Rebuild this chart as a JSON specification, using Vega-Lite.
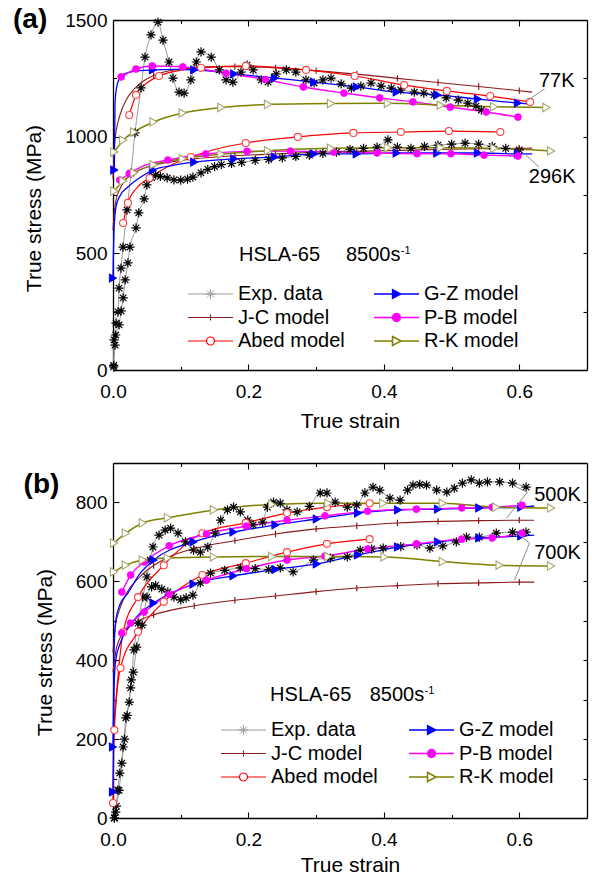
{
"$schema": "https://vega.github.io/schema/vega-lite/v6.json",
"background": "white",
"padding": {"left": 12, "top": 6, "right": 4, "bottom": 0},
"spacing": 22,
"resolve": {"scale": {"color": "independent", "strokeWidth": "independent"}, "legend": {"color": "independent", "strokeWidth": "independent"}},
"config": {
 "font": "Liberation Sans",
 "view": {"stroke": null},
 "axis": {"domainColor": "#000", "domainWidth": 1.3, "tickColor": "#000", "tickWidth": 1.1, "labelFont": "Liberation Sans", "labelFontSize": 19, "labelColor": "#000", "labelFlush": false, "labelOverlap": false, "titleFont": "Liberation Sans", "titleFontSize": 21, "titleFontWeight": "normal", "titleColor": "#000", "grid": false},
 "text": {"font": "Liberation Sans", "color": "#000"}
},
"datasets": {
"curve": [
{"t":"77K","s":"Exp. data","x":0.001,"y":13},{"t":"77K","s":"Exp. data","x":0.0015,"y":129},{"t":"77K","s":"Exp. data","x":0.0044,"y":201},{"t":"77K","s":"Exp. data","x":0.0074,"y":249},{"t":"77K","s":"Exp. data","x":0.0089,"y":351},{"t":"77K","s":"Exp. data","x":0.0118,"y":437},{"t":"77K","s":"Exp. data","x":0.0148,"y":527},{"t":"77K","s":"Exp. data","x":0.0207,"y":686},{"t":"77K","s":"Exp. data","x":0.0266,"y":844},{"t":"77K","s":"Exp. data","x":0.0325,"y":1016},{"t":"77K","s":"Exp. data","x":0.0414,"y":1209},{"t":"77K","s":"Exp. data","x":0.0473,"y":1341},{"t":"77K","s":"Exp. data","x":0.0561,"y":1436},{"t":"77K","s":"Exp. data","x":0.0665,"y":1491},{"t":"77K","s":"Exp. data","x":0.0739,"y":1414},{"t":"77K","s":"Exp. data","x":0.0827,"y":1320},{"t":"77K","s":"Exp. data","x":0.0886,"y":1251},{"t":"77K","s":"Exp. data","x":0.0975,"y":1191},{"t":"77K","s":"Exp. data","x":0.105,"y":1187},{"t":"77K","s":"Exp. data","x":0.115,"y":1243},{"t":"77K","s":"Exp. data","x":0.123,"y":1320},{"t":"77K","s":"Exp. data","x":0.13,"y":1363},{"t":"77K","s":"Exp. data","x":0.145,"y":1341},{"t":"77K","s":"Exp. data","x":0.157,"y":1286},{"t":"77K","s":"Exp. data","x":0.167,"y":1243},{"t":"77K","s":"Exp. data","x":0.177,"y":1234},{"t":"77K","s":"Exp. data","x":0.189,"y":1277},{"t":"77K","s":"Exp. data","x":0.198,"y":1307},{"t":"77K","s":"Exp. data","x":0.207,"y":1286},{"t":"77K","s":"Exp. data","x":0.219,"y":1243},{"t":"77K","s":"Exp. data","x":0.229,"y":1234},{"t":"77K","s":"Exp. data","x":0.241,"y":1269},{"t":"77K","s":"Exp. data","x":0.256,"y":1286},{"t":"77K","s":"Exp. data","x":0.27,"y":1277},{"t":"77K","s":"Exp. data","x":0.285,"y":1243},{"t":"77K","s":"Exp. data","x":0.297,"y":1230},{"t":"77K","s":"Exp. data","x":0.31,"y":1243},{"t":"77K","s":"Exp. data","x":0.322,"y":1251},{"t":"77K","s":"Exp. data","x":0.337,"y":1226},{"t":"77K","s":"Exp. data","x":0.352,"y":1208},{"t":"77K","s":"Exp. data","x":0.366,"y":1217},{"t":"77K","s":"Exp. data","x":0.381,"y":1230},{"t":"77K","s":"Exp. data","x":0.396,"y":1217},{"t":"77K","s":"Exp. data","x":0.411,"y":1208},{"t":"77K","s":"Exp. data","x":0.425,"y":1200},{"t":"77K","s":"Exp. data","x":0.445,"y":1191},{"t":"77K","s":"Exp. data","x":0.459,"y":1187},{"t":"77K","s":"Exp. data","x":0.474,"y":1179},{"t":"77K","s":"Exp. data","x":0.492,"y":1166},{"t":"77K","s":"Exp. data","x":0.51,"y":1157},{"t":"77K","s":"Exp. data","x":0.524,"y":1144},{"t":"77K","s":"Exp. data","x":0.536,"y":1131},{"t":"77K","s":"Exp. data","x":0.544,"y":1114},
{"t":"77K","s":"J-C model","x":0,"y":820},{"t":"77K","s":"J-C model","x":0.002,"y":960},{"t":"77K","s":"J-C model","x":0.005,"y":1030},{"t":"77K","s":"J-C model","x":0.01,"y":1090},{"t":"77K","s":"J-C model","x":0.02,"y":1160},{"t":"77K","s":"J-C model","x":0.03,"y":1200},{"t":"77K","s":"J-C model","x":0.04,"y":1228},{"t":"77K","s":"J-C model","x":0.06,"y":1262},{"t":"77K","s":"J-C model","x":0.08,"y":1280},{"t":"77K","s":"J-C model","x":0.1,"y":1290},{"t":"77K","s":"J-C model","x":0.12,"y":1296},{"t":"77K","s":"J-C model","x":0.15,"y":1300},{"t":"77K","s":"J-C model","x":0.18,"y":1300},{"t":"77K","s":"J-C model","x":0.24,"y":1295},{"t":"77K","s":"J-C model","x":0.3,"y":1283},{"t":"77K","s":"J-C model","x":0.36,"y":1268},{"t":"77K","s":"J-C model","x":0.42,"y":1250},{"t":"77K","s":"J-C model","x":0.48,"y":1232},{"t":"77K","s":"J-C model","x":0.54,"y":1215},{"t":"77K","s":"J-C model","x":0.6,"y":1197},{"t":"77K","s":"J-C model","x":0.619,"y":1191},
{"t":"77K","s":"Abed model","x":0.024,"y":1093},{"t":"77K","s":"Abed model","x":0.034,"y":1179},{"t":"77K","s":"Abed model","x":0.05,"y":1230},{"t":"77K","s":"Abed model","x":0.068,"y":1260},{"t":"77K","s":"Abed model","x":0.1,"y":1285},{"t":"77K","s":"Abed model","x":0.13,"y":1295},{"t":"77K","s":"Abed model","x":0.196,"y":1303},{"t":"77K","s":"Abed model","x":0.285,"y":1286},{"t":"77K","s":"Abed model","x":0.357,"y":1260},{"t":"77K","s":"Abed model","x":0.43,"y":1221},{"t":"77K","s":"Abed model","x":0.493,"y":1196},{"t":"77K","s":"Abed model","x":0.557,"y":1174},{"t":"77K","s":"Abed model","x":0.616,"y":1149},
{"t":"77K","s":"G-Z model","x":0.002,"y":857},{"t":"77K","s":"G-Z model","x":0.003,"y":1150},{"t":"77K","s":"G-Z model","x":0.006,"y":1220},{"t":"77K","s":"G-Z model","x":0.012,"y":1260},{"t":"77K","s":"G-Z model","x":0.02,"y":1272},{"t":"77K","s":"G-Z model","x":0.035,"y":1282},{"t":"77K","s":"G-Z model","x":0.059,"y":1286},{"t":"77K","s":"G-Z model","x":0.09,"y":1288},{"t":"77K","s":"G-Z model","x":0.12,"y":1286},{"t":"77K","s":"G-Z model","x":0.179,"y":1269},{"t":"77K","s":"G-Z model","x":0.239,"y":1251},{"t":"77K","s":"G-Z model","x":0.297,"y":1234},{"t":"77K","s":"G-Z model","x":0.36,"y":1213},{"t":"77K","s":"G-Z model","x":0.419,"y":1191},{"t":"77K","s":"G-Z model","x":0.479,"y":1179},{"t":"77K","s":"G-Z model","x":0.539,"y":1161},{"t":"77K","s":"G-Z model","x":0.598,"y":1144},{"t":"77K","s":"G-Z model","x":0.619,"y":1140},
{"t":"77K","s":"P-B model","x":0.012,"y":1256},{"t":"77K","s":"P-B model","x":0.034,"y":1290},{"t":"77K","s":"P-B model","x":0.058,"y":1303},{"t":"77K","s":"P-B model","x":0.103,"y":1299},{"t":"77K","s":"P-B model","x":0.167,"y":1272},{"t":"77K","s":"P-B model","x":0.225,"y":1245},{"t":"77K","s":"P-B model","x":0.281,"y":1213},{"t":"77K","s":"P-B model","x":0.341,"y":1187},{"t":"77K","s":"P-B model","x":0.394,"y":1166},{"t":"77K","s":"P-B model","x":0.443,"y":1149},{"t":"77K","s":"P-B model","x":0.498,"y":1127},{"t":"77K","s":"P-B model","x":0.551,"y":1106},{"t":"77K","s":"P-B model","x":0.598,"y":1084},
{"t":"77K","s":"R-K model","x":0.002,"y":934},{"t":"77K","s":"R-K model","x":0.015,"y":985},{"t":"77K","s":"R-K model","x":0.031,"y":1020},{"t":"77K","s":"R-K model","x":0.06,"y":1063},{"t":"77K","s":"R-K model","x":0.103,"y":1101},{"t":"77K","s":"R-K model","x":0.16,"y":1125},{"t":"77K","s":"R-K model","x":0.229,"y":1138},{"t":"77K","s":"R-K model","x":0.322,"y":1142},{"t":"77K","s":"R-K model","x":0.406,"y":1143},{"t":"77K","s":"R-K model","x":0.484,"y":1135},{"t":"77K","s":"R-K model","x":0.563,"y":1128},{"t":"77K","s":"R-K model","x":0.64,"y":1125},
{"t":"296K","s":"Exp. data","x":0.001,"y":20},{"t":"296K","s":"Exp. data","x":0.003,"y":107},{"t":"296K","s":"Exp. data","x":0.004,"y":150},{"t":"296K","s":"Exp. data","x":0.009,"y":193},{"t":"296K","s":"Exp. data","x":0.012,"y":253},{"t":"296K","s":"Exp. data","x":0.015,"y":309},{"t":"296K","s":"Exp. data","x":0.018,"y":386},{"t":"296K","s":"Exp. data","x":0.022,"y":459},{"t":"296K","s":"Exp. data","x":0.025,"y":527},{"t":"296K","s":"Exp. data","x":0.034,"y":609},{"t":"296K","s":"Exp. data","x":0.038,"y":673},{"t":"296K","s":"Exp. data","x":0.046,"y":733},{"t":"296K","s":"Exp. data","x":0.05,"y":793},{"t":"296K","s":"Exp. data","x":0.057,"y":825},{"t":"296K","s":"Exp. data","x":0.063,"y":836},{"t":"296K","s":"Exp. data","x":0.07,"y":830},{"t":"296K","s":"Exp. data","x":0.08,"y":823},{"t":"296K","s":"Exp. data","x":0.09,"y":815},{"t":"296K","s":"Exp. data","x":0.1,"y":814},{"t":"296K","s":"Exp. data","x":0.11,"y":818},{"t":"296K","s":"Exp. data","x":0.118,"y":827},{"t":"296K","s":"Exp. data","x":0.13,"y":845},{"t":"296K","s":"Exp. data","x":0.14,"y":860},{"t":"296K","s":"Exp. data","x":0.15,"y":872},{"t":"296K","s":"Exp. data","x":0.16,"y":880},{"t":"296K","s":"Exp. data","x":0.175,"y":885},{"t":"296K","s":"Exp. data","x":0.19,"y":890},{"t":"296K","s":"Exp. data","x":0.21,"y":898},{"t":"296K","s":"Exp. data","x":0.23,"y":903},{"t":"296K","s":"Exp. data","x":0.25,"y":909},{"t":"296K","s":"Exp. data","x":0.27,"y":915},{"t":"296K","s":"Exp. data","x":0.29,"y":921},{"t":"296K","s":"Exp. data","x":0.31,"y":928},{"t":"296K","s":"Exp. data","x":0.33,"y":934},{"t":"296K","s":"Exp. data","x":0.35,"y":945},{"t":"296K","s":"Exp. data","x":0.37,"y":950},{"t":"296K","s":"Exp. data","x":0.39,"y":955},{"t":"296K","s":"Exp. data","x":0.406,"y":986},{"t":"296K","s":"Exp. data","x":0.42,"y":955},{"t":"296K","s":"Exp. data","x":0.44,"y":950},{"t":"296K","s":"Exp. data","x":0.46,"y":958},{"t":"296K","s":"Exp. data","x":0.48,"y":964},{"t":"296K","s":"Exp. data","x":0.5,"y":968},{"t":"296K","s":"Exp. data","x":0.52,"y":972},{"t":"296K","s":"Exp. data","x":0.54,"y":968},{"t":"296K","s":"Exp. data","x":0.56,"y":958},{"t":"296K","s":"Exp. data","x":0.58,"y":950},{"t":"296K","s":"Exp. data","x":0.6,"y":943},
{"t":"296K","s":"J-C model","x":0,"y":600},{"t":"296K","s":"J-C model","x":0.002,"y":680},{"t":"296K","s":"J-C model","x":0.005,"y":735},{"t":"296K","s":"J-C model","x":0.01,"y":775},{"t":"296K","s":"J-C model","x":0.02,"y":820},{"t":"296K","s":"J-C model","x":0.04,"y":858},{"t":"296K","s":"J-C model","x":0.06,"y":878},{"t":"296K","s":"J-C model","x":0.1,"y":898},{"t":"296K","s":"J-C model","x":0.12,"y":905},{"t":"296K","s":"J-C model","x":0.18,"y":918},{"t":"296K","s":"J-C model","x":0.24,"y":926},{"t":"296K","s":"J-C model","x":0.3,"y":933},{"t":"296K","s":"J-C model","x":0.36,"y":937},{"t":"296K","s":"J-C model","x":0.42,"y":941},{"t":"296K","s":"J-C model","x":0.48,"y":945},{"t":"296K","s":"J-C model","x":0.54,"y":948},{"t":"296K","s":"J-C model","x":0.6,"y":950},{"t":"296K","s":"J-C model","x":0.619,"y":951},
{"t":"296K","s":"Abed model","x":0.015,"y":630},{"t":"296K","s":"Abed model","x":0.022,"y":716},{"t":"296K","s":"Abed model","x":0.035,"y":780},{"t":"296K","s":"Abed model","x":0.054,"y":823},{"t":"296K","s":"Abed model","x":0.08,"y":870},{"t":"296K","s":"Abed model","x":0.115,"y":913},{"t":"296K","s":"Abed model","x":0.15,"y":945},{"t":"296K","s":"Abed model","x":0.196,"y":973},{"t":"296K","s":"Abed model","x":0.273,"y":999},{"t":"296K","s":"Abed model","x":0.355,"y":1016},{"t":"296K","s":"Abed model","x":0.425,"y":1020},{"t":"296K","s":"Abed model","x":0.496,"y":1024},{"t":"296K","s":"Abed model","x":0.572,"y":1020},
{"t":"296K","s":"G-Z model","x":0,"y":394},{"t":"296K","s":"G-Z model","x":0.0015,"y":600},{"t":"296K","s":"G-Z model","x":0.0044,"y":699},{"t":"296K","s":"G-Z model","x":0.01,"y":745},{"t":"296K","s":"G-Z model","x":0.022,"y":784},{"t":"296K","s":"G-Z model","x":0.041,"y":827},{"t":"296K","s":"G-Z model","x":0.059,"y":857},{"t":"296K","s":"G-Z model","x":0.09,"y":878},{"t":"296K","s":"G-Z model","x":0.12,"y":891},{"t":"296K","s":"G-Z model","x":0.179,"y":905},{"t":"296K","s":"G-Z model","x":0.239,"y":913},{"t":"296K","s":"G-Z model","x":0.297,"y":926},{"t":"296K","s":"G-Z model","x":0.36,"y":926},{"t":"296K","s":"G-Z model","x":0.419,"y":930},{"t":"296K","s":"G-Z model","x":0.479,"y":930},{"t":"296K","s":"G-Z model","x":0.539,"y":930},{"t":"296K","s":"G-Z model","x":0.598,"y":926},{"t":"296K","s":"G-Z model","x":0.619,"y":926},
{"t":"296K","s":"P-B model","x":0.01,"y":814},{"t":"296K","s":"P-B model","x":0.024,"y":842},{"t":"296K","s":"P-B model","x":0.045,"y":875},{"t":"296K","s":"P-B model","x":0.081,"y":900},{"t":"296K","s":"P-B model","x":0.137,"y":926},{"t":"296K","s":"P-B model","x":0.198,"y":937},{"t":"296K","s":"P-B model","x":0.262,"y":938},{"t":"296K","s":"P-B model","x":0.326,"y":934},{"t":"296K","s":"P-B model","x":0.39,"y":930},{"t":"296K","s":"P-B model","x":0.449,"y":927},{"t":"296K","s":"P-B model","x":0.499,"y":927},{"t":"296K","s":"P-B model","x":0.548,"y":921},{"t":"296K","s":"P-B model","x":0.598,"y":917},
{"t":"296K","s":"R-K model","x":0.002,"y":767},{"t":"296K","s":"R-K model","x":0.015,"y":810},{"t":"296K","s":"R-K model","x":0.031,"y":845},{"t":"296K","s":"R-K model","x":0.06,"y":880},{"t":"296K","s":"R-K model","x":0.103,"y":905},{"t":"296K","s":"R-K model","x":0.16,"y":925},{"t":"296K","s":"R-K model","x":0.229,"y":940},{"t":"296K","s":"R-K model","x":0.322,"y":950},{"t":"296K","s":"R-K model","x":0.406,"y":953},{"t":"296K","s":"R-K model","x":0.484,"y":953},{"t":"296K","s":"R-K model","x":0.563,"y":950},{"t":"296K","s":"R-K model","x":0.647,"y":939},
{"t":"500K","s":"Exp. data","x":0.002,"y":0},{"t":"500K","s":"Exp. data","x":0.004,"y":15},{"t":"500K","s":"Exp. data","x":0.007,"y":71},{"t":"500K","s":"Exp. data","x":0.01,"y":114},{"t":"500K","s":"Exp. data","x":0.015,"y":180},{"t":"500K","s":"Exp. data","x":0.019,"y":254},{"t":"500K","s":"Exp. data","x":0.024,"y":294},{"t":"500K","s":"Exp. data","x":0.027,"y":350},{"t":"500K","s":"Exp. data","x":0.031,"y":426},{"t":"500K","s":"Exp. data","x":0.037,"y":494},{"t":"500K","s":"Exp. data","x":0.044,"y":560},{"t":"500K","s":"Exp. data","x":0.05,"y":611},{"t":"500K","s":"Exp. data","x":0.055,"y":654},{"t":"500K","s":"Exp. data","x":0.059,"y":687},{"t":"500K","s":"Exp. data","x":0.068,"y":717},{"t":"500K","s":"Exp. data","x":0.077,"y":730},{"t":"500K","s":"Exp. data","x":0.085,"y":735},{"t":"500K","s":"Exp. data","x":0.096,"y":722},{"t":"500K","s":"Exp. data","x":0.107,"y":700},{"t":"500K","s":"Exp. data","x":0.119,"y":679},{"t":"500K","s":"Exp. data","x":0.129,"y":674},{"t":"500K","s":"Exp. data","x":0.14,"y":687},{"t":"500K","s":"Exp. data","x":0.151,"y":722},{"t":"500K","s":"Exp. data","x":0.159,"y":755},{"t":"500K","s":"Exp. data","x":0.169,"y":781},{"t":"500K","s":"Exp. data","x":0.178,"y":788},{"t":"500K","s":"Exp. data","x":0.188,"y":776},{"t":"500K","s":"Exp. data","x":0.199,"y":755},{"t":"500K","s":"Exp. data","x":0.207,"y":743},{"t":"500K","s":"Exp. data","x":0.221,"y":750},{"t":"500K","s":"Exp. data","x":0.228,"y":788},{"t":"500K","s":"Exp. data","x":0.237,"y":801},{"t":"500K","s":"Exp. data","x":0.247,"y":798},{"t":"500K","s":"Exp. data","x":0.257,"y":781},{"t":"500K","s":"Exp. data","x":0.272,"y":776},{"t":"500K","s":"Exp. data","x":0.29,"y":790},{"t":"500K","s":"Exp. data","x":0.306,"y":824},{"t":"500K","s":"Exp. data","x":0.316,"y":824},{"t":"500K","s":"Exp. data","x":0.328,"y":801},{"t":"500K","s":"Exp. data","x":0.346,"y":788},{"t":"500K","s":"Exp. data","x":0.36,"y":793},{"t":"500K","s":"Exp. data","x":0.372,"y":824},{"t":"500K","s":"Exp. data","x":0.384,"y":839},{"t":"500K","s":"Exp. data","x":0.394,"y":831},{"t":"500K","s":"Exp. data","x":0.409,"y":811},{"t":"500K","s":"Exp. data","x":0.424,"y":806},{"t":"500K","s":"Exp. data","x":0.435,"y":831},{"t":"500K","s":"Exp. data","x":0.443,"y":844},{"t":"500K","s":"Exp. data","x":0.453,"y":846},{"t":"500K","s":"Exp. data","x":0.463,"y":844},{"t":"500K","s":"Exp. data","x":0.478,"y":831},{"t":"500K","s":"Exp. data","x":0.493,"y":826},{"t":"500K","s":"Exp. data","x":0.504,"y":836},{"t":"500K","s":"Exp. data","x":0.516,"y":849},{"t":"500K","s":"Exp. data","x":0.529,"y":857},{"t":"500K","s":"Exp. data","x":0.541,"y":849},{"t":"500K","s":"Exp. data","x":0.553,"y":852},{"t":"500K","s":"Exp. data","x":0.571,"y":852},{"t":"500K","s":"Exp. data","x":0.59,"y":849},{"t":"500K","s":"Exp. data","x":0.61,"y":839},
{"t":"500K","s":"J-C model","x":0,"y":420},{"t":"500K","s":"J-C model","x":0.003,"y":480},{"t":"500K","s":"J-C model","x":0.01,"y":530},{"t":"500K","s":"J-C model","x":0.02,"y":570},{"t":"500K","s":"J-C model","x":0.04,"y":612},{"t":"500K","s":"J-C model","x":0.06,"y":640},{"t":"500K","s":"J-C model","x":0.08,"y":660},{"t":"500K","s":"J-C model","x":0.12,"y":683},{"t":"500K","s":"J-C model","x":0.18,"y":703},{"t":"500K","s":"J-C model","x":0.24,"y":720},{"t":"500K","s":"J-C model","x":0.3,"y":733},{"t":"500K","s":"J-C model","x":0.36,"y":741},{"t":"500K","s":"J-C model","x":0.42,"y":748},{"t":"500K","s":"J-C model","x":0.48,"y":752},{"t":"500K","s":"J-C model","x":0.54,"y":754},{"t":"500K","s":"J-C model","x":0.6,"y":755},{"t":"500K","s":"J-C model","x":0.622,"y":755},
{"t":"500K","s":"Abed model","x":0.002,"y":250},{"t":"500K","s":"Abed model","x":0.015,"y":471},{"t":"500K","s":"Abed model","x":0.037,"y":560},{"t":"500K","s":"Abed model","x":0.075,"y":641},{"t":"500K","s":"Abed model","x":0.132,"y":722},{"t":"500K","s":"Abed model","x":0.196,"y":748},{"t":"500K","s":"Abed model","x":0.257,"y":773},{"t":"500K","s":"Abed model","x":0.316,"y":788},{"t":"500K","s":"Abed model","x":0.379,"y":798},
{"t":"500K","s":"G-Z model","x":0,"y":180},{"t":"500K","s":"G-Z model","x":0.0015,"y":420},{"t":"500K","s":"G-Z model","x":0.004,"y":500},{"t":"500K","s":"G-Z model","x":0.01,"y":540},{"t":"500K","s":"G-Z model","x":0.022,"y":570},{"t":"500K","s":"G-Z model","x":0.04,"y":620},{"t":"500K","s":"G-Z model","x":0.06,"y":654},{"t":"500K","s":"G-Z model","x":0.119,"y":700},{"t":"500K","s":"G-Z model","x":0.178,"y":725},{"t":"500K","s":"G-Z model","x":0.24,"y":743},{"t":"500K","s":"G-Z model","x":0.301,"y":758},{"t":"500K","s":"G-Z model","x":0.362,"y":773},{"t":"500K","s":"G-Z model","x":0.421,"y":781},{"t":"500K","s":"G-Z model","x":0.48,"y":783},{"t":"500K","s":"G-Z model","x":0.541,"y":786},{"t":"500K","s":"G-Z model","x":0.603,"y":788},{"t":"500K","s":"G-Z model","x":0.622,"y":791},
{"t":"500K","s":"P-B model","x":0.013,"y":573},{"t":"500K","s":"P-B model","x":0.026,"y":616},{"t":"500K","s":"P-B model","x":0.046,"y":649},{"t":"500K","s":"P-B model","x":0.083,"y":690},{"t":"500K","s":"P-B model","x":0.138,"y":720},{"t":"500K","s":"P-B model","x":0.197,"y":740},{"t":"500K","s":"P-B model","x":0.257,"y":755},{"t":"500K","s":"P-B model","x":0.313,"y":766},{"t":"500K","s":"P-B model","x":0.376,"y":778},{"t":"500K","s":"P-B model","x":0.448,"y":783},{"t":"500K","s":"P-B model","x":0.515,"y":786},{"t":"500K","s":"P-B model","x":0.56,"y":788},{"t":"500K","s":"P-B model","x":0.604,"y":793},
{"t":"500K","s":"R-K model","x":0.0015,"y":697},{"t":"500K","s":"R-K model","x":0.019,"y":722},{"t":"500K","s":"R-K model","x":0.044,"y":748},{"t":"500K","s":"R-K model","x":0.081,"y":761},{"t":"500K","s":"R-K model","x":0.149,"y":781},{"t":"500K","s":"R-K model","x":0.235,"y":795},{"t":"500K","s":"R-K model","x":0.318,"y":798},{"t":"500K","s":"R-K model","x":0.399,"y":798},{"t":"500K","s":"R-K model","x":0.487,"y":798},{"t":"500K","s":"R-K model","x":0.566,"y":788},{"t":"500K","s":"R-K model","x":0.647,"y":786},
{"t":"700K","s":"Exp. data","x":0.002,"y":0},{"t":"700K","s":"Exp. data","x":0.005,"y":30},{"t":"700K","s":"Exp. data","x":0.009,"y":70},{"t":"700K","s":"Exp. data","x":0.013,"y":139},{"t":"700K","s":"Exp. data","x":0.017,"y":200},{"t":"700K","s":"Exp. data","x":0.021,"y":260},{"t":"700K","s":"Exp. data","x":0.026,"y":330},{"t":"700K","s":"Exp. data","x":0.03,"y":370},{"t":"700K","s":"Exp. data","x":0.035,"y":433},{"t":"700K","s":"Exp. data","x":0.043,"y":489},{"t":"700K","s":"Exp. data","x":0.05,"y":560},{"t":"700K","s":"Exp. data","x":0.057,"y":586},{"t":"700K","s":"Exp. data","x":0.063,"y":590},{"t":"700K","s":"Exp. data","x":0.072,"y":580},{"t":"700K","s":"Exp. data","x":0.081,"y":573},{"t":"700K","s":"Exp. data","x":0.09,"y":560},{"t":"700K","s":"Exp. data","x":0.1,"y":553},{"t":"700K","s":"Exp. data","x":0.108,"y":558},{"t":"700K","s":"Exp. data","x":0.118,"y":565},{"t":"700K","s":"Exp. data","x":0.129,"y":596},{"t":"700K","s":"Exp. data","x":0.144,"y":621},{"t":"700K","s":"Exp. data","x":0.165,"y":628},{"t":"700K","s":"Exp. data","x":0.188,"y":634},{"t":"700K","s":"Exp. data","x":0.21,"y":632},{"t":"700K","s":"Exp. data","x":0.23,"y":630},{"t":"700K","s":"Exp. data","x":0.247,"y":634},{"t":"700K","s":"Exp. data","x":0.266,"y":624},{"t":"700K","s":"Exp. data","x":0.296,"y":654},{"t":"700K","s":"Exp. data","x":0.321,"y":659},{"t":"700K","s":"Exp. data","x":0.346,"y":662},{"t":"700K","s":"Exp. data","x":0.365,"y":679},{"t":"700K","s":"Exp. data","x":0.382,"y":682},{"t":"700K","s":"Exp. data","x":0.399,"y":684},{"t":"700K","s":"Exp. data","x":0.425,"y":688},{"t":"700K","s":"Exp. data","x":0.449,"y":692},{"t":"700K","s":"Exp. data","x":0.468,"y":684},{"t":"700K","s":"Exp. data","x":0.487,"y":690},{"t":"700K","s":"Exp. data","x":0.507,"y":700},{"t":"700K","s":"Exp. data","x":0.522,"y":712},{"t":"700K","s":"Exp. data","x":0.541,"y":712},{"t":"700K","s":"Exp. data","x":0.566,"y":722},{"t":"700K","s":"Exp. data","x":0.59,"y":725},{"t":"700K","s":"Exp. data","x":0.61,"y":725},
{"t":"700K","s":"J-C model","x":0,"y":370},{"t":"700K","s":"J-C model","x":0.005,"y":430},{"t":"700K","s":"J-C model","x":0.01,"y":455},{"t":"700K","s":"J-C model","x":0.02,"y":478},{"t":"700K","s":"J-C model","x":0.04,"y":502},{"t":"700K","s":"J-C model","x":0.06,"y":515},{"t":"700K","s":"J-C model","x":0.1,"y":532},{"t":"700K","s":"J-C model","x":0.12,"y":538},{"t":"700K","s":"J-C model","x":0.18,"y":552},{"t":"700K","s":"J-C model","x":0.24,"y":563},{"t":"700K","s":"J-C model","x":0.3,"y":574},{"t":"700K","s":"J-C model","x":0.36,"y":583},{"t":"700K","s":"J-C model","x":0.42,"y":589},{"t":"700K","s":"J-C model","x":0.48,"y":594},{"t":"700K","s":"J-C model","x":0.54,"y":596},{"t":"700K","s":"J-C model","x":0.6,"y":598},{"t":"700K","s":"J-C model","x":0.622,"y":598},
{"t":"700K","s":"Abed model","x":0,"y":38},{"t":"700K","s":"Abed model","x":0.002,"y":223},{"t":"700K","s":"Abed model","x":0.011,"y":380},{"t":"700K","s":"Abed model","x":0.037,"y":472},{"t":"700K","s":"Abed model","x":0.075,"y":548},{"t":"700K","s":"Abed model","x":0.132,"y":616},{"t":"700K","s":"Abed model","x":0.196,"y":646},{"t":"700K","s":"Abed model","x":0.257,"y":674},{"t":"700K","s":"Abed model","x":0.316,"y":695},{"t":"700K","s":"Abed model","x":0.379,"y":707},
{"t":"700K","s":"G-Z model","x":0,"y":66},{"t":"700K","s":"G-Z model","x":0.0015,"y":330},{"t":"700K","s":"G-Z model","x":0.004,"y":400},{"t":"700K","s":"G-Z model","x":0.01,"y":440},{"t":"700K","s":"G-Z model","x":0.02,"y":475},{"t":"700K","s":"G-Z model","x":0.035,"y":510},{"t":"700K","s":"G-Z model","x":0.06,"y":545},{"t":"700K","s":"G-Z model","x":0.119,"y":593},{"t":"700K","s":"G-Z model","x":0.178,"y":614},{"t":"700K","s":"G-Z model","x":0.24,"y":630},{"t":"700K","s":"G-Z model","x":0.301,"y":644},{"t":"700K","s":"G-Z model","x":0.362,"y":667},{"t":"700K","s":"G-Z model","x":0.421,"y":687},{"t":"700K","s":"G-Z model","x":0.48,"y":700},{"t":"700K","s":"G-Z model","x":0.541,"y":710},{"t":"700K","s":"G-Z model","x":0.603,"y":715},{"t":"700K","s":"G-Z model","x":0.622,"y":717},
{"t":"700K","s":"P-B model","x":0.013,"y":469},{"t":"700K","s":"P-B model","x":0.026,"y":494},{"t":"700K","s":"P-B model","x":0.046,"y":522},{"t":"700K","s":"P-B model","x":0.083,"y":567},{"t":"700K","s":"P-B model","x":0.138,"y":603},{"t":"700K","s":"P-B model","x":0.197,"y":632},{"t":"700K","s":"P-B model","x":0.257,"y":654},{"t":"700K","s":"P-B model","x":0.313,"y":664},{"t":"700K","s":"P-B model","x":0.376,"y":682},{"t":"700K","s":"P-B model","x":0.448,"y":695},{"t":"700K","s":"P-B model","x":0.515,"y":707},{"t":"700K","s":"P-B model","x":0.56,"y":710},{"t":"700K","s":"P-B model","x":0.604,"y":722},
{"t":"700K","s":"R-K model","x":0.0015,"y":624},{"t":"700K","s":"R-K model","x":0.019,"y":641},{"t":"700K","s":"R-K model","x":0.044,"y":654},{"t":"700K","s":"R-K model","x":0.081,"y":659},{"t":"700K","s":"R-K model","x":0.149,"y":662},{"t":"700K","s":"R-K model","x":0.235,"y":663},{"t":"700K","s":"R-K model","x":0.318,"y":663},{"t":"700K","s":"R-K model","x":0.401,"y":662},{"t":"700K","s":"R-K model","x":0.487,"y":650},{"t":"700K","s":"R-K model","x":0.571,"y":641},{"t":"700K","s":"R-K model","x":0.647,"y":639}
],
"pts": [
{"t":"77K","s":"Exp. data","x":0.001,"y":13},{"t":"77K","s":"Exp. data","x":0.0015,"y":129},{"t":"77K","s":"Exp. data","x":0.0044,"y":201},{"t":"77K","s":"Exp. data","x":0.0074,"y":249},{"t":"77K","s":"Exp. data","x":0.0089,"y":351},{"t":"77K","s":"Exp. data","x":0.0118,"y":437},{"t":"77K","s":"Exp. data","x":0.0148,"y":527},{"t":"77K","s":"Exp. data","x":0.0207,"y":686},{"t":"77K","s":"Exp. data","x":0.0266,"y":844},{"t":"77K","s":"Exp. data","x":0.0325,"y":1016},{"t":"77K","s":"Exp. data","x":0.0414,"y":1209},{"t":"77K","s":"Exp. data","x":0.0473,"y":1341},{"t":"77K","s":"Exp. data","x":0.0561,"y":1436},{"t":"77K","s":"Exp. data","x":0.0665,"y":1491},{"t":"77K","s":"Exp. data","x":0.0739,"y":1414},{"t":"77K","s":"Exp. data","x":0.0827,"y":1320},{"t":"77K","s":"Exp. data","x":0.0886,"y":1251},{"t":"77K","s":"Exp. data","x":0.0975,"y":1191},{"t":"77K","s":"Exp. data","x":0.105,"y":1187},{"t":"77K","s":"Exp. data","x":0.115,"y":1243},{"t":"77K","s":"Exp. data","x":0.123,"y":1320},{"t":"77K","s":"Exp. data","x":0.13,"y":1363},{"t":"77K","s":"Exp. data","x":0.145,"y":1341},{"t":"77K","s":"Exp. data","x":0.157,"y":1286},{"t":"77K","s":"Exp. data","x":0.167,"y":1243},{"t":"77K","s":"Exp. data","x":0.177,"y":1234},{"t":"77K","s":"Exp. data","x":0.189,"y":1277},{"t":"77K","s":"Exp. data","x":0.198,"y":1307},{"t":"77K","s":"Exp. data","x":0.207,"y":1286},{"t":"77K","s":"Exp. data","x":0.219,"y":1243},{"t":"77K","s":"Exp. data","x":0.229,"y":1234},{"t":"77K","s":"Exp. data","x":0.241,"y":1269},{"t":"77K","s":"Exp. data","x":0.256,"y":1286},{"t":"77K","s":"Exp. data","x":0.27,"y":1277},{"t":"77K","s":"Exp. data","x":0.285,"y":1243},{"t":"77K","s":"Exp. data","x":0.297,"y":1230},{"t":"77K","s":"Exp. data","x":0.31,"y":1243},{"t":"77K","s":"Exp. data","x":0.322,"y":1251},{"t":"77K","s":"Exp. data","x":0.337,"y":1226},{"t":"77K","s":"Exp. data","x":0.352,"y":1208},{"t":"77K","s":"Exp. data","x":0.366,"y":1217},{"t":"77K","s":"Exp. data","x":0.381,"y":1230},{"t":"77K","s":"Exp. data","x":0.396,"y":1217},{"t":"77K","s":"Exp. data","x":0.411,"y":1208},{"t":"77K","s":"Exp. data","x":0.425,"y":1200},{"t":"77K","s":"Exp. data","x":0.445,"y":1191},{"t":"77K","s":"Exp. data","x":0.459,"y":1187},{"t":"77K","s":"Exp. data","x":0.474,"y":1179},{"t":"77K","s":"Exp. data","x":0.492,"y":1166},{"t":"77K","s":"Exp. data","x":0.51,"y":1157},{"t":"77K","s":"Exp. data","x":0.524,"y":1144},{"t":"77K","s":"Exp. data","x":0.536,"y":1131},{"t":"77K","s":"Exp. data","x":0.544,"y":1114},
{"t":"77K","s":"J-C model","x":0.06,"y":1262},{"t":"77K","s":"J-C model","x":0.12,"y":1296},{"t":"77K","s":"J-C model","x":0.18,"y":1300},{"t":"77K","s":"J-C model","x":0.24,"y":1295},{"t":"77K","s":"J-C model","x":0.3,"y":1283},{"t":"77K","s":"J-C model","x":0.36,"y":1268},{"t":"77K","s":"J-C model","x":0.42,"y":1250},{"t":"77K","s":"J-C model","x":0.48,"y":1232},{"t":"77K","s":"J-C model","x":0.54,"y":1215},{"t":"77K","s":"J-C model","x":0.6,"y":1197},
{"t":"77K","s":"Abed model","x":0.024,"y":1093},{"t":"77K","s":"Abed model","x":0.034,"y":1179},{"t":"77K","s":"Abed model","x":0.068,"y":1260},{"t":"77K","s":"Abed model","x":0.13,"y":1295},{"t":"77K","s":"Abed model","x":0.196,"y":1303},{"t":"77K","s":"Abed model","x":0.285,"y":1286},{"t":"77K","s":"Abed model","x":0.357,"y":1260},{"t":"77K","s":"Abed model","x":0.43,"y":1221},{"t":"77K","s":"Abed model","x":0.493,"y":1196},{"t":"77K","s":"Abed model","x":0.557,"y":1174},{"t":"77K","s":"Abed model","x":0.616,"y":1149},
{"t":"77K","s":"G-Z model","x":0.002,"y":857},{"t":"77K","s":"G-Z model","x":0.059,"y":1286},{"t":"77K","s":"G-Z model","x":0.12,"y":1286},{"t":"77K","s":"G-Z model","x":0.179,"y":1269},{"t":"77K","s":"G-Z model","x":0.239,"y":1251},{"t":"77K","s":"G-Z model","x":0.297,"y":1234},{"t":"77K","s":"G-Z model","x":0.36,"y":1213},{"t":"77K","s":"G-Z model","x":0.419,"y":1191},{"t":"77K","s":"G-Z model","x":0.479,"y":1179},{"t":"77K","s":"G-Z model","x":0.539,"y":1161},{"t":"77K","s":"G-Z model","x":0.598,"y":1144},
{"t":"77K","s":"P-B model","x":0.012,"y":1256},{"t":"77K","s":"P-B model","x":0.034,"y":1290},{"t":"77K","s":"P-B model","x":0.058,"y":1303},{"t":"77K","s":"P-B model","x":0.103,"y":1299},{"t":"77K","s":"P-B model","x":0.167,"y":1272},{"t":"77K","s":"P-B model","x":0.225,"y":1245},{"t":"77K","s":"P-B model","x":0.281,"y":1213},{"t":"77K","s":"P-B model","x":0.341,"y":1187},{"t":"77K","s":"P-B model","x":0.394,"y":1166},{"t":"77K","s":"P-B model","x":0.443,"y":1149},{"t":"77K","s":"P-B model","x":0.498,"y":1127},{"t":"77K","s":"P-B model","x":0.551,"y":1106},{"t":"77K","s":"P-B model","x":0.598,"y":1084},
{"t":"77K","s":"R-K model","x":0.002,"y":934},{"t":"77K","s":"R-K model","x":0.015,"y":985},{"t":"77K","s":"R-K model","x":0.031,"y":1020},{"t":"77K","s":"R-K model","x":0.06,"y":1063},{"t":"77K","s":"R-K model","x":0.103,"y":1101},{"t":"77K","s":"R-K model","x":0.16,"y":1125},{"t":"77K","s":"R-K model","x":0.229,"y":1138},{"t":"77K","s":"R-K model","x":0.322,"y":1142},{"t":"77K","s":"R-K model","x":0.406,"y":1143},{"t":"77K","s":"R-K model","x":0.484,"y":1135},{"t":"77K","s":"R-K model","x":0.563,"y":1128},{"t":"77K","s":"R-K model","x":0.64,"y":1125},
{"t":"296K","s":"Exp. data","x":0.001,"y":20},{"t":"296K","s":"Exp. data","x":0.003,"y":107},{"t":"296K","s":"Exp. data","x":0.004,"y":150},{"t":"296K","s":"Exp. data","x":0.009,"y":193},{"t":"296K","s":"Exp. data","x":0.012,"y":253},{"t":"296K","s":"Exp. data","x":0.015,"y":309},{"t":"296K","s":"Exp. data","x":0.018,"y":386},{"t":"296K","s":"Exp. data","x":0.022,"y":459},{"t":"296K","s":"Exp. data","x":0.025,"y":527},{"t":"296K","s":"Exp. data","x":0.034,"y":609},{"t":"296K","s":"Exp. data","x":0.038,"y":673},{"t":"296K","s":"Exp. data","x":0.046,"y":733},{"t":"296K","s":"Exp. data","x":0.05,"y":793},{"t":"296K","s":"Exp. data","x":0.057,"y":825},{"t":"296K","s":"Exp. data","x":0.063,"y":836},{"t":"296K","s":"Exp. data","x":0.07,"y":830},{"t":"296K","s":"Exp. data","x":0.08,"y":823},{"t":"296K","s":"Exp. data","x":0.09,"y":815},{"t":"296K","s":"Exp. data","x":0.1,"y":814},{"t":"296K","s":"Exp. data","x":0.11,"y":818},{"t":"296K","s":"Exp. data","x":0.118,"y":827},{"t":"296K","s":"Exp. data","x":0.13,"y":845},{"t":"296K","s":"Exp. data","x":0.14,"y":860},{"t":"296K","s":"Exp. data","x":0.15,"y":872},{"t":"296K","s":"Exp. data","x":0.16,"y":880},{"t":"296K","s":"Exp. data","x":0.175,"y":885},{"t":"296K","s":"Exp. data","x":0.19,"y":890},{"t":"296K","s":"Exp. data","x":0.21,"y":898},{"t":"296K","s":"Exp. data","x":0.23,"y":903},{"t":"296K","s":"Exp. data","x":0.25,"y":909},{"t":"296K","s":"Exp. data","x":0.27,"y":915},{"t":"296K","s":"Exp. data","x":0.29,"y":921},{"t":"296K","s":"Exp. data","x":0.31,"y":928},{"t":"296K","s":"Exp. data","x":0.33,"y":934},{"t":"296K","s":"Exp. data","x":0.35,"y":945},{"t":"296K","s":"Exp. data","x":0.37,"y":950},{"t":"296K","s":"Exp. data","x":0.39,"y":955},{"t":"296K","s":"Exp. data","x":0.406,"y":986},{"t":"296K","s":"Exp. data","x":0.42,"y":955},{"t":"296K","s":"Exp. data","x":0.44,"y":950},{"t":"296K","s":"Exp. data","x":0.46,"y":958},{"t":"296K","s":"Exp. data","x":0.48,"y":964},{"t":"296K","s":"Exp. data","x":0.5,"y":968},{"t":"296K","s":"Exp. data","x":0.52,"y":972},{"t":"296K","s":"Exp. data","x":0.54,"y":968},{"t":"296K","s":"Exp. data","x":0.56,"y":958},{"t":"296K","s":"Exp. data","x":0.58,"y":950},{"t":"296K","s":"Exp. data","x":0.6,"y":943},
{"t":"296K","s":"J-C model","x":0.06,"y":878},{"t":"296K","s":"J-C model","x":0.12,"y":905},{"t":"296K","s":"J-C model","x":0.18,"y":918},{"t":"296K","s":"J-C model","x":0.24,"y":926},{"t":"296K","s":"J-C model","x":0.3,"y":933},{"t":"296K","s":"J-C model","x":0.36,"y":937},{"t":"296K","s":"J-C model","x":0.42,"y":941},{"t":"296K","s":"J-C model","x":0.48,"y":945},{"t":"296K","s":"J-C model","x":0.54,"y":948},{"t":"296K","s":"J-C model","x":0.6,"y":950},
{"t":"296K","s":"Abed model","x":0.015,"y":630},{"t":"296K","s":"Abed model","x":0.022,"y":716},{"t":"296K","s":"Abed model","x":0.054,"y":823},{"t":"296K","s":"Abed model","x":0.115,"y":913},{"t":"296K","s":"Abed model","x":0.196,"y":973},{"t":"296K","s":"Abed model","x":0.273,"y":999},{"t":"296K","s":"Abed model","x":0.355,"y":1016},{"t":"296K","s":"Abed model","x":0.425,"y":1020},{"t":"296K","s":"Abed model","x":0.496,"y":1024},{"t":"296K","s":"Abed model","x":0.572,"y":1020},
{"t":"296K","s":"G-Z model","x":0,"y":394},{"t":"296K","s":"G-Z model","x":0.059,"y":857},{"t":"296K","s":"G-Z model","x":0.12,"y":891},{"t":"296K","s":"G-Z model","x":0.179,"y":905},{"t":"296K","s":"G-Z model","x":0.239,"y":913},{"t":"296K","s":"G-Z model","x":0.297,"y":926},{"t":"296K","s":"G-Z model","x":0.36,"y":926},{"t":"296K","s":"G-Z model","x":0.419,"y":930},{"t":"296K","s":"G-Z model","x":0.479,"y":930},{"t":"296K","s":"G-Z model","x":0.539,"y":930},{"t":"296K","s":"G-Z model","x":0.598,"y":926},
{"t":"296K","s":"P-B model","x":0.01,"y":814},{"t":"296K","s":"P-B model","x":0.024,"y":842},{"t":"296K","s":"P-B model","x":0.081,"y":900},{"t":"296K","s":"P-B model","x":0.137,"y":926},{"t":"296K","s":"P-B model","x":0.198,"y":937},{"t":"296K","s":"P-B model","x":0.262,"y":938},{"t":"296K","s":"P-B model","x":0.326,"y":934},{"t":"296K","s":"P-B model","x":0.39,"y":930},{"t":"296K","s":"P-B model","x":0.449,"y":927},{"t":"296K","s":"P-B model","x":0.499,"y":927},{"t":"296K","s":"P-B model","x":0.548,"y":921},{"t":"296K","s":"P-B model","x":0.598,"y":917},
{"t":"296K","s":"R-K model","x":0.002,"y":767},{"t":"296K","s":"R-K model","x":0.015,"y":810},{"t":"296K","s":"R-K model","x":0.031,"y":845},{"t":"296K","s":"R-K model","x":0.06,"y":880},{"t":"296K","s":"R-K model","x":0.103,"y":905},{"t":"296K","s":"R-K model","x":0.16,"y":925},{"t":"296K","s":"R-K model","x":0.229,"y":940},{"t":"296K","s":"R-K model","x":0.322,"y":950},{"t":"296K","s":"R-K model","x":0.406,"y":953},{"t":"296K","s":"R-K model","x":0.484,"y":953},{"t":"296K","s":"R-K model","x":0.563,"y":950},{"t":"296K","s":"R-K model","x":0.647,"y":939},
{"t":"500K","s":"Exp. data","x":0.002,"y":0},{"t":"500K","s":"Exp. data","x":0.004,"y":15},{"t":"500K","s":"Exp. data","x":0.007,"y":71},{"t":"500K","s":"Exp. data","x":0.01,"y":114},{"t":"500K","s":"Exp. data","x":0.015,"y":180},{"t":"500K","s":"Exp. data","x":0.019,"y":254},{"t":"500K","s":"Exp. data","x":0.024,"y":294},{"t":"500K","s":"Exp. data","x":0.027,"y":350},{"t":"500K","s":"Exp. data","x":0.031,"y":426},{"t":"500K","s":"Exp. data","x":0.037,"y":494},{"t":"500K","s":"Exp. data","x":0.044,"y":560},{"t":"500K","s":"Exp. data","x":0.05,"y":611},{"t":"500K","s":"Exp. data","x":0.055,"y":654},{"t":"500K","s":"Exp. data","x":0.059,"y":687},{"t":"500K","s":"Exp. data","x":0.068,"y":717},{"t":"500K","s":"Exp. data","x":0.077,"y":730},{"t":"500K","s":"Exp. data","x":0.085,"y":735},{"t":"500K","s":"Exp. data","x":0.096,"y":722},{"t":"500K","s":"Exp. data","x":0.107,"y":700},{"t":"500K","s":"Exp. data","x":0.119,"y":679},{"t":"500K","s":"Exp. data","x":0.129,"y":674},{"t":"500K","s":"Exp. data","x":0.14,"y":687},{"t":"500K","s":"Exp. data","x":0.151,"y":722},{"t":"500K","s":"Exp. data","x":0.159,"y":755},{"t":"500K","s":"Exp. data","x":0.169,"y":781},{"t":"500K","s":"Exp. data","x":0.178,"y":788},{"t":"500K","s":"Exp. data","x":0.188,"y":776},{"t":"500K","s":"Exp. data","x":0.199,"y":755},{"t":"500K","s":"Exp. data","x":0.207,"y":743},{"t":"500K","s":"Exp. data","x":0.221,"y":750},{"t":"500K","s":"Exp. data","x":0.228,"y":788},{"t":"500K","s":"Exp. data","x":0.237,"y":801},{"t":"500K","s":"Exp. data","x":0.247,"y":798},{"t":"500K","s":"Exp. data","x":0.257,"y":781},{"t":"500K","s":"Exp. data","x":0.272,"y":776},{"t":"500K","s":"Exp. data","x":0.29,"y":790},{"t":"500K","s":"Exp. data","x":0.306,"y":824},{"t":"500K","s":"Exp. data","x":0.316,"y":824},{"t":"500K","s":"Exp. data","x":0.328,"y":801},{"t":"500K","s":"Exp. data","x":0.346,"y":788},{"t":"500K","s":"Exp. data","x":0.36,"y":793},{"t":"500K","s":"Exp. data","x":0.372,"y":824},{"t":"500K","s":"Exp. data","x":0.384,"y":839},{"t":"500K","s":"Exp. data","x":0.394,"y":831},{"t":"500K","s":"Exp. data","x":0.409,"y":811},{"t":"500K","s":"Exp. data","x":0.424,"y":806},{"t":"500K","s":"Exp. data","x":0.435,"y":831},{"t":"500K","s":"Exp. data","x":0.443,"y":844},{"t":"500K","s":"Exp. data","x":0.453,"y":846},{"t":"500K","s":"Exp. data","x":0.463,"y":844},{"t":"500K","s":"Exp. data","x":0.478,"y":831},{"t":"500K","s":"Exp. data","x":0.493,"y":826},{"t":"500K","s":"Exp. data","x":0.504,"y":836},{"t":"500K","s":"Exp. data","x":0.516,"y":849},{"t":"500K","s":"Exp. data","x":0.529,"y":857},{"t":"500K","s":"Exp. data","x":0.541,"y":849},{"t":"500K","s":"Exp. data","x":0.553,"y":852},{"t":"500K","s":"Exp. data","x":0.571,"y":852},{"t":"500K","s":"Exp. data","x":0.59,"y":849},{"t":"500K","s":"Exp. data","x":0.61,"y":839},
{"t":"500K","s":"J-C model","x":0.06,"y":640},{"t":"500K","s":"J-C model","x":0.12,"y":683},{"t":"500K","s":"J-C model","x":0.18,"y":703},{"t":"500K","s":"J-C model","x":0.24,"y":720},{"t":"500K","s":"J-C model","x":0.3,"y":733},{"t":"500K","s":"J-C model","x":0.36,"y":741},{"t":"500K","s":"J-C model","x":0.42,"y":748},{"t":"500K","s":"J-C model","x":0.48,"y":752},{"t":"500K","s":"J-C model","x":0.54,"y":754},{"t":"500K","s":"J-C model","x":0.6,"y":755},
{"t":"500K","s":"Abed model","x":0.015,"y":471},{"t":"500K","s":"Abed model","x":0.037,"y":560},{"t":"500K","s":"Abed model","x":0.075,"y":641},{"t":"500K","s":"Abed model","x":0.132,"y":722},{"t":"500K","s":"Abed model","x":0.196,"y":748},{"t":"500K","s":"Abed model","x":0.257,"y":773},{"t":"500K","s":"Abed model","x":0.316,"y":788},{"t":"500K","s":"Abed model","x":0.379,"y":798},
{"t":"500K","s":"G-Z model","x":0,"y":180},{"t":"500K","s":"G-Z model","x":0.06,"y":654},{"t":"500K","s":"G-Z model","x":0.119,"y":700},{"t":"500K","s":"G-Z model","x":0.178,"y":725},{"t":"500K","s":"G-Z model","x":0.24,"y":743},{"t":"500K","s":"G-Z model","x":0.301,"y":758},{"t":"500K","s":"G-Z model","x":0.362,"y":773},{"t":"500K","s":"G-Z model","x":0.421,"y":781},{"t":"500K","s":"G-Z model","x":0.48,"y":783},{"t":"500K","s":"G-Z model","x":0.541,"y":786},{"t":"500K","s":"G-Z model","x":0.603,"y":788},
{"t":"500K","s":"P-B model","x":0.013,"y":573},{"t":"500K","s":"P-B model","x":0.026,"y":616},{"t":"500K","s":"P-B model","x":0.046,"y":649},{"t":"500K","s":"P-B model","x":0.083,"y":690},{"t":"500K","s":"P-B model","x":0.138,"y":720},{"t":"500K","s":"P-B model","x":0.197,"y":740},{"t":"500K","s":"P-B model","x":0.257,"y":755},{"t":"500K","s":"P-B model","x":0.313,"y":766},{"t":"500K","s":"P-B model","x":0.376,"y":778},{"t":"500K","s":"P-B model","x":0.448,"y":783},{"t":"500K","s":"P-B model","x":0.515,"y":786},{"t":"500K","s":"P-B model","x":0.56,"y":788},{"t":"500K","s":"P-B model","x":0.604,"y":793},
{"t":"500K","s":"R-K model","x":0.0015,"y":697},{"t":"500K","s":"R-K model","x":0.019,"y":722},{"t":"500K","s":"R-K model","x":0.044,"y":748},{"t":"500K","s":"R-K model","x":0.081,"y":761},{"t":"500K","s":"R-K model","x":0.149,"y":781},{"t":"500K","s":"R-K model","x":0.235,"y":795},{"t":"500K","s":"R-K model","x":0.318,"y":798},{"t":"500K","s":"R-K model","x":0.399,"y":798},{"t":"500K","s":"R-K model","x":0.487,"y":798},{"t":"500K","s":"R-K model","x":0.566,"y":788},{"t":"500K","s":"R-K model","x":0.647,"y":786},
{"t":"700K","s":"Exp. data","x":0.002,"y":0},{"t":"700K","s":"Exp. data","x":0.005,"y":30},{"t":"700K","s":"Exp. data","x":0.009,"y":70},{"t":"700K","s":"Exp. data","x":0.013,"y":139},{"t":"700K","s":"Exp. data","x":0.017,"y":200},{"t":"700K","s":"Exp. data","x":0.021,"y":260},{"t":"700K","s":"Exp. data","x":0.026,"y":330},{"t":"700K","s":"Exp. data","x":0.03,"y":370},{"t":"700K","s":"Exp. data","x":0.035,"y":433},{"t":"700K","s":"Exp. data","x":0.043,"y":489},{"t":"700K","s":"Exp. data","x":0.05,"y":560},{"t":"700K","s":"Exp. data","x":0.057,"y":586},{"t":"700K","s":"Exp. data","x":0.063,"y":590},{"t":"700K","s":"Exp. data","x":0.072,"y":580},{"t":"700K","s":"Exp. data","x":0.081,"y":573},{"t":"700K","s":"Exp. data","x":0.09,"y":560},{"t":"700K","s":"Exp. data","x":0.1,"y":553},{"t":"700K","s":"Exp. data","x":0.108,"y":558},{"t":"700K","s":"Exp. data","x":0.118,"y":565},{"t":"700K","s":"Exp. data","x":0.129,"y":596},{"t":"700K","s":"Exp. data","x":0.144,"y":621},{"t":"700K","s":"Exp. data","x":0.165,"y":628},{"t":"700K","s":"Exp. data","x":0.188,"y":634},{"t":"700K","s":"Exp. data","x":0.21,"y":632},{"t":"700K","s":"Exp. data","x":0.23,"y":630},{"t":"700K","s":"Exp. data","x":0.247,"y":634},{"t":"700K","s":"Exp. data","x":0.266,"y":624},{"t":"700K","s":"Exp. data","x":0.296,"y":654},{"t":"700K","s":"Exp. data","x":0.321,"y":659},{"t":"700K","s":"Exp. data","x":0.346,"y":662},{"t":"700K","s":"Exp. data","x":0.365,"y":679},{"t":"700K","s":"Exp. data","x":0.382,"y":682},{"t":"700K","s":"Exp. data","x":0.399,"y":684},{"t":"700K","s":"Exp. data","x":0.425,"y":688},{"t":"700K","s":"Exp. data","x":0.449,"y":692},{"t":"700K","s":"Exp. data","x":0.468,"y":684},{"t":"700K","s":"Exp. data","x":0.487,"y":690},{"t":"700K","s":"Exp. data","x":0.507,"y":700},{"t":"700K","s":"Exp. data","x":0.522,"y":712},{"t":"700K","s":"Exp. data","x":0.541,"y":712},{"t":"700K","s":"Exp. data","x":0.566,"y":722},{"t":"700K","s":"Exp. data","x":0.59,"y":725},{"t":"700K","s":"Exp. data","x":0.61,"y":725},
{"t":"700K","s":"J-C model","x":0.06,"y":515},{"t":"700K","s":"J-C model","x":0.12,"y":538},{"t":"700K","s":"J-C model","x":0.18,"y":552},{"t":"700K","s":"J-C model","x":0.24,"y":563},{"t":"700K","s":"J-C model","x":0.3,"y":574},{"t":"700K","s":"J-C model","x":0.36,"y":583},{"t":"700K","s":"J-C model","x":0.42,"y":589},{"t":"700K","s":"J-C model","x":0.48,"y":594},{"t":"700K","s":"J-C model","x":0.54,"y":596},{"t":"700K","s":"J-C model","x":0.6,"y":598},
{"t":"700K","s":"Abed model","x":0,"y":38},{"t":"700K","s":"Abed model","x":0.002,"y":223},{"t":"700K","s":"Abed model","x":0.011,"y":380},{"t":"700K","s":"Abed model","x":0.037,"y":472},{"t":"700K","s":"Abed model","x":0.075,"y":548},{"t":"700K","s":"Abed model","x":0.132,"y":616},{"t":"700K","s":"Abed model","x":0.196,"y":646},{"t":"700K","s":"Abed model","x":0.257,"y":674},{"t":"700K","s":"Abed model","x":0.316,"y":695},{"t":"700K","s":"Abed model","x":0.379,"y":707},
{"t":"700K","s":"G-Z model","x":0,"y":66},{"t":"700K","s":"G-Z model","x":0.06,"y":545},{"t":"700K","s":"G-Z model","x":0.119,"y":593},{"t":"700K","s":"G-Z model","x":0.178,"y":614},{"t":"700K","s":"G-Z model","x":0.24,"y":630},{"t":"700K","s":"G-Z model","x":0.301,"y":644},{"t":"700K","s":"G-Z model","x":0.362,"y":667},{"t":"700K","s":"G-Z model","x":0.421,"y":687},{"t":"700K","s":"G-Z model","x":0.48,"y":700},{"t":"700K","s":"G-Z model","x":0.541,"y":710},{"t":"700K","s":"G-Z model","x":0.603,"y":715},
{"t":"700K","s":"P-B model","x":0.013,"y":469},{"t":"700K","s":"P-B model","x":0.026,"y":494},{"t":"700K","s":"P-B model","x":0.046,"y":522},{"t":"700K","s":"P-B model","x":0.083,"y":567},{"t":"700K","s":"P-B model","x":0.138,"y":603},{"t":"700K","s":"P-B model","x":0.197,"y":632},{"t":"700K","s":"P-B model","x":0.257,"y":654},{"t":"700K","s":"P-B model","x":0.313,"y":664},{"t":"700K","s":"P-B model","x":0.376,"y":682},{"t":"700K","s":"P-B model","x":0.448,"y":695},{"t":"700K","s":"P-B model","x":0.515,"y":707},{"t":"700K","s":"P-B model","x":0.56,"y":710},{"t":"700K","s":"P-B model","x":0.604,"y":722},
{"t":"700K","s":"R-K model","x":0.0015,"y":624},{"t":"700K","s":"R-K model","x":0.019,"y":641},{"t":"700K","s":"R-K model","x":0.044,"y":654},{"t":"700K","s":"R-K model","x":0.081,"y":659},{"t":"700K","s":"R-K model","x":0.149,"y":662},{"t":"700K","s":"R-K model","x":0.235,"y":663},{"t":"700K","s":"R-K model","x":0.318,"y":663},{"t":"700K","s":"R-K model","x":0.401,"y":662},{"t":"700K","s":"R-K model","x":0.487,"y":650},{"t":"700K","s":"R-K model","x":0.571,"y":641},{"t":"700K","s":"R-K model","x":0.647,"y":639}
]
},
"vconcat": [
{
 "width": 474, "height": 350,
 "layer": [
  {
   "data": {"name": "curve"},
   "transform": [{"filter": "datum.t === '77K' || datum.t === '296K'"}],
   "mark": {"type": "line", "interpolate": "monotone"},
   "encoding": {
    "x": {"field": "x", "type": "quantitative", "scale": {"domain": [0, 0.7], "nice": false, "zero": false},
     "axis": {"orient": "bottom", "values": [0, 0.1, 0.2, 0.3, 0.4, 0.5, 0.6], "labelExpr": "round(datum.value*10)%2===0 ? format(datum.value,'.1f') : ''", "tickSize": {"condition": {"test": "round(datum.value*10)%2===0", "value": -6}, "value": -3.5}, "labelPadding": 18, "title": "True strain", "titlePadding": 7}},
    "y": {"field": "y", "type": "quantitative", "scale": {"domain": [0, 1500], "nice": false},
     "axis": {"orient": "left", "values": [0, 250, 500, 750, 1000, 1250, 1500], "labelExpr": "datum.value%500===0 ? format(datum.value,'d') : ''", "tickSize": {"condition": {"test": "datum.value%500===0", "value": -6}, "value": -3.5}, "labelPadding": 12, "title": "True stress (MPa)", "titlePadding": 20, "titleY": 188}},
    "color": {"field": "s", "type": "nominal",
     "scale": {"domain": ["Exp. data", "J-C model", "Abed model", "G-Z model", "P-B model", "R-K model"], "range": ["#9a9a9a", "#8b1a1a", "#ff0000", "#0000ff", "#ff00ff", "#808000"]},
     "legend": {"title": null, "orient": "none", "legendX": 75, "legendY": 264, "columns": 2, "direction": "vertical", "columnPadding": 26, "rowPadding": 3.5, "padding": 0, "symbolSize": 100, "symbolStrokeWidth": 1.5, "labelFont": "Liberation Sans", "labelFontSize": 20, "labelColor": "#000", "labelOffset": 30, "labelLimit": 300,
      "encode": {"symbols": {"update": {
       "shape": {"signal": "datum.value==='Exp. data' ? 'M-2,0H7M2.5,-1V1M1.5,0H3.5M1.8,-0.7L3.2,0.7M1.8,0.7L3.2,-0.7' : datum.value==='J-C model' ? 'M-2,0H7M2.5,-0.6V0.6' : datum.value==='Abed model' ? 'M-2,0H1.7M3.3,0H7M1.7,0A0.8,0.8,0,1,0,3.3,0A0.8,0.8,0,1,0,1.7,0Z' : datum.value==='P-B model' ? 'M-2,0H7M1.7,0A0.8,0.8,0,1,0,3.3,0A0.8,0.8,0,1,0,1.7,0Z' : datum.value==='G-Z model' ? 'M-2,0H7M1.7,-0.9L3.4,0L1.7,0.9Z' : 'M-2,0H1.7M3.4,0H7M1.7,-0.9L3.4,0L1.7,0.9Z'"},
       "fill": {"signal": "datum.value==='G-Z model' ? '#0000ff' : datum.value==='P-B model' ? '#ff00ff' : (datum.value==='Abed model' || datum.value==='R-K model') ? '#ffffff' : 'transparent'"},
       "strokeWidth": {"value": 1.5},
       "opacity": {"value": 1}}}}}},
    "strokeWidth": {"field": "s", "type": "nominal", "scale": {"domain": ["Exp. data", "J-C model", "Abed model", "G-Z model", "P-B model", "R-K model"], "range": [1, 1.5, 1.5, 1.5, 1.5, 1.5]}, "legend": null},
    "detail": {"field": "t"}
   }
  },
  {
   "data": {"name": "pts"},
   "transform": [{"filter": "(datum.t === '77K' || datum.t === '296K') && datum.s === 'Exp. data'"}],
   "mark": {"type": "point", "shape": "M-1,0H1M0,-1V1M-0.7,-0.7L0.7,0.7M-0.7,0.7L0.7,-0.7", "size": 85, "filled": false, "stroke": "#000000", "strokeWidth": 1.2, "opacity": 1},
   "encoding": {
    "x": {"field": "x", "type": "quantitative", "scale": {"domain": [0, 0.7], "nice": false, "zero": false},
     "axis": {"orient": "top", "values": [0.1, 0.2, 0.3, 0.4, 0.5, 0.6], "labels": false, "tickSize": {"condition": {"test": "round(datum.value*10)%2===0", "value": -6}, "value": -3.5}, "title": null}},
    "y": {"field": "y", "type": "quantitative", "scale": {"domain": [0, 1500], "nice": false},
     "axis": {"orient": "right", "values": [250, 500, 750, 1000, 1250], "labels": false, "tickSize": -4, "title": null}}
   }
  },
  {
   "data": {"name": "pts"},
   "transform": [{"filter": "(datum.t === '77K' || datum.t === '296K') && datum.s === 'J-C model'"}],
   "mark": {"type": "point", "shape": "M0,-1V1", "size": 40, "filled": false, "stroke": "#8b1a1a", "strokeWidth": 1.2, "opacity": 1},
   "encoding": {
    "x": {"field": "x", "type": "quantitative", "scale": {"domain": [0, 0.7], "nice": false, "zero": false}, "axis": null},
    "y": {"field": "y", "type": "quantitative", "scale": {"domain": [0, 1500], "nice": false}, "axis": null}
   }
  },
  {
   "data": {"name": "pts"},
   "transform": [{"filter": "(datum.t === '77K' || datum.t === '296K') && datum.s === 'Abed model'"}],
   "mark": {"type": "point", "shape": "circle", "size": 50, "filled": true, "fill": "#ffffff", "stroke": "#ff4040", "strokeWidth": 1.1, "opacity": 1},
   "encoding": {
    "x": {"field": "x", "type": "quantitative", "scale": {"domain": [0, 0.7], "nice": false, "zero": false}, "axis": null},
    "y": {"field": "y", "type": "quantitative", "scale": {"domain": [0, 1500], "nice": false}, "axis": null}
   }
  },
  {
   "data": {"name": "pts"},
   "transform": [{"filter": "(datum.t === '77K' || datum.t === '296K') && datum.s === 'G-Z model'"}],
   "mark": {"type": "point", "shape": "triangle-right", "size": 70, "filled": true, "fill": "#0000ff", "stroke": "#0000ff", "strokeWidth": 1, "opacity": 1},
   "encoding": {
    "x": {"field": "x", "type": "quantitative", "scale": {"domain": [0, 0.7], "nice": false, "zero": false}, "axis": null},
    "y": {"field": "y", "type": "quantitative", "scale": {"domain": [0, 1500], "nice": false}, "axis": null}
   }
  },
  {
   "data": {"name": "pts"},
   "transform": [{"filter": "(datum.t === '77K' || datum.t === '296K') && datum.s === 'P-B model'"}],
   "mark": {"type": "point", "shape": "circle", "size": 45, "filled": true, "fill": "#ff00ff", "stroke": "#ff00ff", "strokeWidth": 1, "opacity": 1},
   "encoding": {
    "x": {"field": "x", "type": "quantitative", "scale": {"domain": [0, 0.7], "nice": false, "zero": false}, "axis": null},
    "y": {"field": "y", "type": "quantitative", "scale": {"domain": [0, 1500], "nice": false}, "axis": null}
   }
  },
  {
   "data": {"name": "pts"},
   "transform": [{"filter": "(datum.t === '77K' || datum.t === '296K') && datum.s === 'R-K model'"}],
   "mark": {"type": "point", "shape": "triangle-right", "size": 70, "filled": true, "fill": "#ffffff", "stroke": "#a8a870", "strokeWidth": 1.1, "opacity": 1},
   "encoding": {
    "x": {"field": "x", "type": "quantitative", "scale": {"domain": [0, 0.7], "nice": false, "zero": false}, "axis": null},
    "y": {"field": "y", "type": "quantitative", "scale": {"domain": [0, 1500], "nice": false}, "axis": null}
   }
  },
  {
   "data": {"values": [{"x": 0.637, "y": 1204, "x2": 0.613, "y2": 1157}, {"x": 0.629, "y": 870, "x2": 0.61, "y2": 921}]},
   "mark": {"type": "rule", "color": "#8c8c8c", "strokeWidth": 1},
   "encoding": {
    "x": {"field": "x", "type": "quantitative", "scale": {"domain": [0, 0.7], "nice": false, "zero": false}, "axis": null},
    "y": {"field": "y", "type": "quantitative", "scale": {"domain": [0, 1500], "nice": false}, "axis": null},
    "x2": {"field": "x2"}, "y2": {"field": "y2"}
   }
  },
  {
   "data": {"values": [{"label": "HSLA-65", "x": 0.186, "y": 493}, {"label": "8500s", "x": 0.344, "y": 493}, {"label": "77K", "x": 0.629, "y": 1238}, {"label": "296K", "x": 0.614, "y": 827}]},
   "mark": {"type": "text", "align": "left", "baseline": "middle", "fontSize": 20, "font": "Liberation Sans", "color": "#000"},
   "encoding": {
    "x": {"field": "x", "type": "quantitative", "scale": {"domain": [0, 0.7], "nice": false, "zero": false}, "axis": null},
    "y": {"field": "y", "type": "quantitative", "scale": {"domain": [0, 1500], "nice": false}, "axis": null},
    "text": {"field": "label"}
   }
  },
  {
   "data": {"values": [{"label": "-1", "x": 0.425, "y": 512}]},
   "mark": {"type": "text", "align": "left", "baseline": "middle", "fontSize": 11, "font": "Liberation Sans", "color": "#000"},
   "encoding": {
    "x": {"field": "x", "type": "quantitative", "scale": {"domain": [0, 0.7], "nice": false, "zero": false}, "axis": null},
    "y": {"field": "y", "type": "quantitative", "scale": {"domain": [0, 1500], "nice": false}, "axis": null},
    "text": {"field": "label"}
   }
  },
  {
   "data": {"values": [{"label": "(a)", "x": -0.1477, "y": 1500}]},
   "mark": {"type": "text", "align": "left", "baseline": "middle", "fontSize": 28, "fontWeight": "bold", "font": "Liberation Sans", "color": "#000"},
   "encoding": {
    "x": {"field": "x", "type": "quantitative", "scale": {"domain": [0, 0.7], "nice": false, "zero": false}, "axis": null},
    "y": {"field": "y", "type": "quantitative", "scale": {"domain": [0, 1500], "nice": false}, "axis": null},
    "text": {"field": "label"}
   }
  }
 ],
 "resolve": {"axis": {"x": "independent", "y": "independent"}}
},
{
 "width": 474, "height": 355,
 "layer": [
  {
   "data": {"name": "curve"},
   "transform": [{"filter": "datum.t === '500K' || datum.t === '700K'"}],
   "mark": {"type": "line", "interpolate": "monotone"},
   "encoding": {
    "x": {"field": "x", "type": "quantitative", "scale": {"domain": [0, 0.7], "nice": false, "zero": false},
     "axis": {"orient": "bottom", "values": [0, 0.1, 0.2, 0.3, 0.4, 0.5, 0.6], "labelExpr": "round(datum.value*10)%2===0 ? format(datum.value,'.1f') : ''", "tickSize": {"condition": {"test": "round(datum.value*10)%2===0", "value": -6}, "value": -3.5}, "labelPadding": 18, "title": "True strain", "titlePadding": 3}},
    "y": {"field": "y", "type": "quantitative", "scale": {"domain": [0, 900], "nice": false},
     "axis": {"orient": "left", "values": [0, 100, 200, 300, 400, 500, 600, 700, 800, 900], "labelExpr": "datum.value%200===0 ? format(datum.value,'d') : ''", "tickSize": {"condition": {"test": "datum.value%200===0", "value": -6}, "value": -3.5}, "labelPadding": 12, "title": "True stress (MPa)", "titlePadding": 20, "titleY": 189}},
    "color": {"field": "s", "type": "nominal",
     "scale": {"domain": ["Exp. data", "J-C model", "Abed model", "G-Z model", "P-B model", "R-K model"], "range": ["#9a9a9a", "#8b1a1a", "#ff0000", "#0000ff", "#ff00ff", "#808000"]},
     "legend": {"title": null, "orient": "none", "legendX": 108, "legendY": 257, "columns": 2, "direction": "vertical", "columnPadding": 28, "rowPadding": 3.5, "padding": 0, "symbolSize": 100, "symbolStrokeWidth": 1.5, "labelFont": "Liberation Sans", "labelFontSize": 20, "labelColor": "#000", "labelOffset": 30, "labelLimit": 300,
      "encode": {"symbols": {"update": {
       "shape": {"signal": "datum.value==='Exp. data' ? 'M-2,0H7M2.5,-1V1M1.5,0H3.5M1.8,-0.7L3.2,0.7M1.8,0.7L3.2,-0.7' : datum.value==='J-C model' ? 'M-2,0H7M2.5,-0.6V0.6' : datum.value==='Abed model' ? 'M-2,0H1.7M3.3,0H7M1.7,0A0.8,0.8,0,1,0,3.3,0A0.8,0.8,0,1,0,1.7,0Z' : datum.value==='P-B model' ? 'M-2,0H7M1.7,0A0.8,0.8,0,1,0,3.3,0A0.8,0.8,0,1,0,1.7,0Z' : datum.value==='G-Z model' ? 'M-2,0H7M1.7,-0.9L3.4,0L1.7,0.9Z' : 'M-2,0H1.7M3.4,0H7M1.7,-0.9L3.4,0L1.7,0.9Z'"},
       "fill": {"signal": "datum.value==='G-Z model' ? '#0000ff' : datum.value==='P-B model' ? '#ff00ff' : (datum.value==='Abed model' || datum.value==='R-K model') ? '#ffffff' : 'transparent'"},
       "strokeWidth": {"value": 1.5},
       "opacity": {"value": 1}}}}}},
    "strokeWidth": {"field": "s", "type": "nominal", "scale": {"domain": ["Exp. data", "J-C model", "Abed model", "G-Z model", "P-B model", "R-K model"], "range": [1, 1.5, 1.5, 1.5, 1.5, 1.5]}, "legend": null},
    "detail": {"field": "t"}
   }
  },
  {
   "data": {"name": "pts"},
   "transform": [{"filter": "(datum.t === '500K' || datum.t === '700K') && datum.s === 'Exp. data'"}],
   "mark": {"type": "point", "shape": "M-1,0H1M0,-1V1M-0.7,-0.7L0.7,0.7M-0.7,0.7L0.7,-0.7", "size": 85, "filled": false, "stroke": "#000000", "strokeWidth": 1.2, "opacity": 1},
   "encoding": {
    "x": {"field": "x", "type": "quantitative", "scale": {"domain": [0, 0.7], "nice": false, "zero": false},
     "axis": {"orient": "top", "values": [0.1, 0.2, 0.3, 0.4, 0.5, 0.6], "labels": false, "tickSize": {"condition": {"test": "round(datum.value*10)%2===0", "value": -6}, "value": -3.5}, "title": null}},
    "y": {"field": "y", "type": "quantitative", "scale": {"domain": [0, 900], "nice": false},
     "axis": {"orient": "right", "values": [100, 200, 300, 400, 500, 600, 700, 800], "labels": false, "tickSize": -4, "title": null}}
   }
  },
  {
   "data": {"name": "pts"},
   "transform": [{"filter": "(datum.t === '500K' || datum.t === '700K') && datum.s === 'J-C model'"}],
   "mark": {"type": "point", "shape": "M0,-1V1", "size": 40, "filled": false, "stroke": "#8b1a1a", "strokeWidth": 1.2, "opacity": 1},
   "encoding": {
    "x": {"field": "x", "type": "quantitative", "scale": {"domain": [0, 0.7], "nice": false, "zero": false}, "axis": null},
    "y": {"field": "y", "type": "quantitative", "scale": {"domain": [0, 900], "nice": false}, "axis": null}
   }
  },
  {
   "data": {"name": "pts"},
   "transform": [{"filter": "(datum.t === '500K' || datum.t === '700K') && datum.s === 'Abed model'"}],
   "mark": {"type": "point", "shape": "circle", "size": 50, "filled": true, "fill": "#ffffff", "stroke": "#ff4040", "strokeWidth": 1.1, "opacity": 1},
   "encoding": {
    "x": {"field": "x", "type": "quantitative", "scale": {"domain": [0, 0.7], "nice": false, "zero": false}, "axis": null},
    "y": {"field": "y", "type": "quantitative", "scale": {"domain": [0, 900], "nice": false}, "axis": null}
   }
  },
  {
   "data": {"name": "pts"},
   "transform": [{"filter": "(datum.t === '500K' || datum.t === '700K') && datum.s === 'G-Z model'"}],
   "mark": {"type": "point", "shape": "triangle-right", "size": 70, "filled": true, "fill": "#0000ff", "stroke": "#0000ff", "strokeWidth": 1, "opacity": 1},
   "encoding": {
    "x": {"field": "x", "type": "quantitative", "scale": {"domain": [0, 0.7], "nice": false, "zero": false}, "axis": null},
    "y": {"field": "y", "type": "quantitative", "scale": {"domain": [0, 900], "nice": false}, "axis": null}
   }
  },
  {
   "data": {"name": "pts"},
   "transform": [{"filter": "(datum.t === '500K' || datum.t === '700K') && datum.s === 'P-B model'"}],
   "mark": {"type": "point", "shape": "circle", "size": 45, "filled": true, "fill": "#ff00ff", "stroke": "#ff00ff", "strokeWidth": 1, "opacity": 1},
   "encoding": {
    "x": {"field": "x", "type": "quantitative", "scale": {"domain": [0, 0.7], "nice": false, "zero": false}, "axis": null},
    "y": {"field": "y", "type": "quantitative", "scale": {"domain": [0, 900], "nice": false}, "axis": null}
   }
  },
  {
   "data": {"name": "pts"},
   "transform": [{"filter": "(datum.t === '500K' || datum.t === '700K') && datum.s === 'R-K model'"}],
   "mark": {"type": "point", "shape": "triangle-right", "size": 70, "filled": true, "fill": "#ffffff", "stroke": "#a8a870", "strokeWidth": 1.1, "opacity": 1},
   "encoding": {
    "x": {"field": "x", "type": "quantitative", "scale": {"domain": [0, 0.7], "nice": false, "zero": false}, "axis": null},
    "y": {"field": "y", "type": "quantitative", "scale": {"domain": [0, 900], "nice": false}, "axis": null}
   }
  },
  {
   "data": {"values": [{"x": 0.612, "y": 826, "x2": 0.59, "y2": 844}, {"x": 0.612, "y": 826, "x2": 0.581, "y2": 760}, {"x": 0.615, "y": 697, "x2": 0.597, "y2": 722}, {"x": 0.615, "y": 697, "x2": 0.593, "y2": 603}]},
   "mark": {"type": "rule", "color": "#8c8c8c", "strokeWidth": 1},
   "encoding": {
    "x": {"field": "x", "type": "quantitative", "scale": {"domain": [0, 0.7], "nice": false, "zero": false}, "axis": null},
    "y": {"field": "y", "type": "quantitative", "scale": {"domain": [0, 900], "nice": false}, "axis": null},
    "x2": {"field": "x2"}, "y2": {"field": "y2"}
   }
  },
  {
   "data": {"values": [{"label": "HSLA-65", "x": 0.232, "y": 312}, {"label": "8500s", "x": 0.379, "y": 312}, {"label": "500K", "x": 0.622, "y": 819}, {"label": "700K", "x": 0.622, "y": 672}]},
   "mark": {"type": "text", "align": "left", "baseline": "middle", "fontSize": 20, "font": "Liberation Sans", "color": "#000"},
   "encoding": {
    "x": {"field": "x", "type": "quantitative", "scale": {"domain": [0, 0.7], "nice": false, "zero": false}, "axis": null},
    "y": {"field": "y", "type": "quantitative", "scale": {"domain": [0, 900], "nice": false}, "axis": null},
    "text": {"field": "label"}
   }
  },
  {
   "data": {"values": [{"label": "-1", "x": 0.46, "y": 322}]},
   "mark": {"type": "text", "align": "left", "baseline": "middle", "fontSize": 11, "font": "Liberation Sans", "color": "#000"},
   "encoding": {
    "x": {"field": "x", "type": "quantitative", "scale": {"domain": [0, 0.7], "nice": false, "zero": false}, "axis": null},
    "y": {"field": "y", "type": "quantitative", "scale": {"domain": [0, 900], "nice": false}, "axis": null},
    "text": {"field": "label"}
   }
  },
  {
   "data": {"values": [{"label": "(b)", "x": -0.132, "y": 845}]},
   "mark": {"type": "text", "align": "left", "baseline": "middle", "fontSize": 28, "fontWeight": "bold", "font": "Liberation Sans", "color": "#000"},
   "encoding": {
    "x": {"field": "x", "type": "quantitative", "scale": {"domain": [0, 0.7], "nice": false, "zero": false}, "axis": null},
    "y": {"field": "y", "type": "quantitative", "scale": {"domain": [0, 900], "nice": false}, "axis": null},
    "text": {"field": "label"}
   }
  }
 ],
 "resolve": {"axis": {"x": "independent", "y": "independent"}}
}
]
}
